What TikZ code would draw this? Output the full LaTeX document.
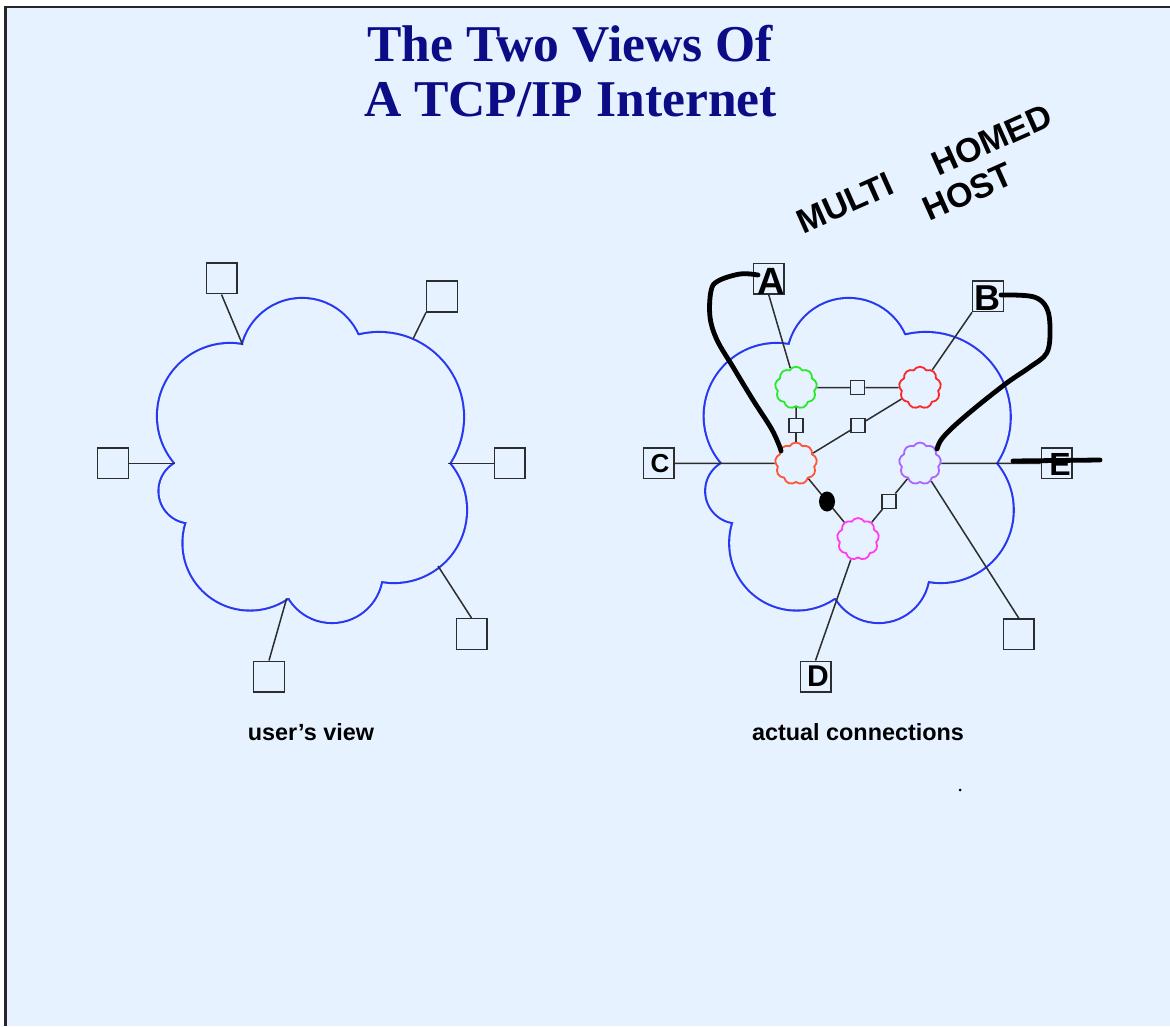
\documentclass[tikz,border=0pt]{standalone}
\usepackage{fontspec}
\setmainfont{Liberation Serif}
\newfontfamily\labelsans{Liberation Sans}
\usetikzlibrary{shapes.symbols}
\definecolor{bg}{RGB}{230,242,255}
\definecolor{cloudblue}{RGB}{40,56,240}
\definecolor{titleblue}{RGB}{12,12,135}
\definecolor{linegray}{RGB}{45,45,45}
\definecolor{rgreen}{RGB}{40,235,40}
\definecolor{rred}{RGB}{250,40,40}
\definecolor{rorange}{RGB}{255,85,50}
\definecolor{rpurple}{RGB}{170,100,255}
\definecolor{rpink}{RGB}{255,60,240}
\begin{document}
\begin{tikzpicture}[x=0.5pt,y=-0.5pt,
  host/.style={draw=linegray, line width=0.7pt, fill=bg, minimum size=15.3pt, inner sep=0pt},
  hub/.style={draw=linegray, line width=0.7pt, fill=bg, minimum size=7pt, inner sep=0pt},
  link/.style={draw=linegray, line width=0.75pt},
  router/.style={cloud, cloud puffs=9, cloud puff arc=120, aspect=1, minimum width=21pt, minimum height=21pt, inner sep=0pt, line width=0.9pt, fill=bg},
  ink/.style={black, line width=2.4pt, line cap=round, line join=round},
  handtext/.style={font=\labelsans\bfseries\fontsize{17}{18}\selectfont, text=black, inner sep=0pt},
  caption/.style={font=\labelsans\bfseries\fontsize{11.7}{14}\selectfont, text=black, inner sep=0pt, anchor=base},
  titletext/.style={font=\bfseries\fontsize{25.8}{27.5}\selectfont, text=titleblue, inner sep=0pt, anchor=base}
]
\useasboundingbox (0,0) rectangle (1170,1026);
\fill[white] (0,0) rectangle (1170,1026);
\fill[bg] (5,7) rectangle (1170,1026);
\draw[line width=1.25pt, black!85] (5.3,1026) -- (5.3,7.2) -- (1170,7.2);

% title
\node[titletext] (t1) at (570,62) {The Two Views Of};
\node[titletext] (t2) at (570.5,117) {A TCP/IP Internet};

% big clouds (union of circles)
\foreach \dx in {0,546.7}{
  \begin{scope}[shift={(\dx,0)}]
    \draw[cloudblue, line width=2.1pt] (302,360) circle[radius=61] (379,417) circle[radius=84]
      (394,510) circle[radius=72] (332,572) circle[radius=50] (250,543) circle[radius=66.5]
      (191,491) circle[radius=31.5] (230,416) circle[radius=72];
    \fill[bg] (302,360) circle[radius=61];
    \fill[bg] (379,417) circle[radius=84];
    \fill[bg] (394,510) circle[radius=72];
    \fill[bg] (332,572) circle[radius=50];
    \fill[bg] (250,543) circle[radius=66.5];
    \fill[bg] (191,491) circle[radius=31.5];
    \fill[bg] (230,416) circle[radius=72];
    \fill[bg] (242.7,345) -- (358.3,335) -- (448.3,463.3) -- (380,581.7) -- (286.7,598.3) -- (187.3,521.7) -- (175,463.3) -- cycle;
  \end{scope}
}

% left view
\coordinate (u1) at (242.7,345);
\coordinate (u2) at (413,339);
\coordinate (u3) at (448.3,463.3);
\coordinate (u4) at (438,566);
\coordinate (u5) at (286.7,598.3);
\coordinate (u6) at (175,463.3);
\node[host] (h1) at (221.5,278.5) {};
\node[host] (h2) at (442,296.5) {};
\node[host] (h3) at (113,463.3) {};
\node[host] (h4) at (509.5,463.3) {};
\node[host] (h5) at (471.5,634) {};
\node[host] (h6) at (269,676.5) {};
\draw[link] (h1.south) -- (u1);
\draw[link] (h2.south west) -- (u2);
\draw[link] (h3.east) -- (u6);
\draw[link] (h4.west) -- (u3);
\draw[link] (h5.north) -- (u4);
\draw[link] (h6.north) -- (u5);

% right view
\node[host] (A) at (768.7,278.7) {};
\node[host] (B) at (988,296.3) {};
\node[host] (C) at (658.8,463.3) {};
\node[host] (E) at (1056.5,463.3) {};
\node[host] (F) at (1018.8,634.2) {};
\node[host] (D) at (815.5,676.5) {};
\node[router, draw=rgreen] (rg) at (796,387.7) {};
\node[router, draw=rred] (rr) at (920,387.7) {};
\node[router, draw=rorange] (ro) at (796,463.5) {};
\node[router, draw=rpurple] (rp) at (920,463.5) {};
\node[router, draw=rpink] (rm) at (858,539) {};
\node[hub] (s1) at (857.7,387.7) {};
\node[hub] (s2) at (796,425.6) {};
\node[hub] (s3) at (858,425.6) {};
\node[hub] (s4) at (889,501.2) {};
\draw[link] (A.south) -- (rg);
\draw[link] (B.south west) -- (rr);
\draw[link] (C.east) -- (ro);
\draw[link] (rp) -- (E.west);
\draw[link] (rp) -- (F.north);
\draw[link] (rm) -- (D.north);
\draw[link] (rg) -- (s1);
\draw[link] (s1) -- (rr);
\draw[link] (rg) -- (s2);
\draw[link] (s2) -- (ro);
\draw[link] (ro) -- (s3);
\draw[link] (s3) -- (rr);
\draw[link] (rm) -- (s4);
\draw[link] (s4) -- (rp);
\draw[link] (ro) -- (rm);

% captions
\node[caption] (cap1) at (311,740) {user’s view};
\node[caption] (cap2) at (858,740) {actual connections};

% hand-drawn annotations
\fill[black] (827,501.5) ellipse[x radius=8, y radius=10];
\draw[ink] plot[smooth, tension=0.6] coordinates {(758,275) (740,274) (718,281) (711,291) (710,317) (717,340) (733,367) (753,400) (771,428) (779,445) (781,451)};
\draw[ink] plot[smooth, tension=0.6] coordinates {(1001,295) (1033,296.7) (1046.7,308) (1050,330) (1046.7,353) (1030,367) (1006.7,383) (975,408) (952,428) (941,440) (937,449)};
\draw[ink] (1013,461) -- (1100,460);
\node[handtext, font=\labelsans\bfseries\fontsize{19}{20}\selectfont] (la) at (771,281) {A};
\node[handtext, font=\labelsans\bfseries\fontsize{18}{20}\selectfont] (lb) at (987,298) {B};
\node[handtext, font=\labelsans\bfseries\fontsize{13}{14}\selectfont] (lc) at (660,464) {C};
\node[handtext, font=\labelsans\bfseries\fontsize{15}{16}\selectfont] (ld) at (818,676) {D};
\node[handtext, font=\labelsans\bfseries\fontsize{16}{17}\selectfont] (le) at (1060,464) {E};
\node[handtext, rotate=24] (m1) at (845,203) {MULTI};
\node[handtext, rotate=24] (m2) at (992,140) {HOMED};
\node[handtext, rotate=24] (m3) at (968,192) {HOST};
\fill[black] (960,790) circle[radius=1.5];
\end{tikzpicture}
\end{document}
